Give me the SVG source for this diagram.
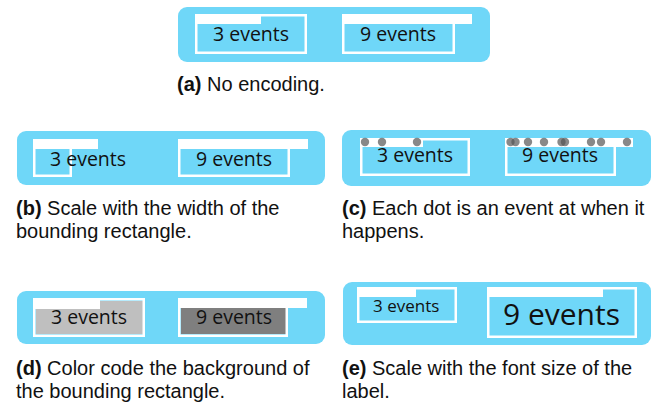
<svg xmlns="http://www.w3.org/2000/svg" width="653" height="410" viewBox="0 0 653 410">
<style>
.bg{fill:#6fd7f8}
.ol{fill:none;stroke:#fff;stroke-width:2.5}
.bar{fill:#fff}
.lbl{font-family:"Open Sans","Noto Sans",sans-serif;font-size:19.5px;fill:#111}
.cap{font-family:"Liberation Sans",Arial,sans-serif;font-size:20px;fill:#111}
.b{font-weight:bold}
.dot{fill:#555;fill-opacity:0.7}
</style>
<rect width="653" height="410" fill="#fff"/>
<g id="panel-a">
  <rect class="bg" x="178" y="7" width="312" height="55" rx="9"/>
  <g id="a-left">
    <rect class="ol" x="196.25" y="15.25" width="109.5" height="37.5"/>
    <rect class="bar" x="195" y="14" width="66" height="10"/>
    <text class="lbl" x="213" y="41">3 events</text>
  </g>
  <g id="a-right">
    <rect class="ol" x="343.25" y="15.25" width="110.5" height="37.5"/>
    <rect class="bar" x="342" y="14" width="130" height="10"/>
    <text class="lbl" x="360" y="41">9 events</text>
  </g>
  <text class="cap" x="177" y="91"><tspan class="b">(a)</tspan> No encoding.</text>
</g>
<g id="panel-b">
  <rect class="bg" x="17" y="131" width="308" height="54" rx="9"/>
  <g id="b-left">
    <rect class="ol" x="34.25" y="140.25" width="36.5" height="35.5"/>
    <rect class="bar" x="33" y="139" width="65" height="10"/>
    <text class="lbl" x="50" y="166">3 events</text>
  </g>
  <g id="b-right">
    <rect class="ol" x="179.25" y="140.25" width="109.5" height="35.5"/>
    <rect class="bar" x="178" y="139" width="130" height="10"/>
    <text class="lbl" x="196" y="166">9 events</text>
  </g>
  <text class="cap" x="16" y="215"><tspan class="b">(b)</tspan> Scale with the width of the</text>
  <text class="cap" x="16" y="238">bounding rectangle.</text>
</g>
<g id="panel-c">
  <rect class="bg" x="342" y="130" width="309" height="56" rx="9"/>
  <g id="c-left">
    <rect class="ol" x="361.25" y="139.25" width="107.5" height="35.5"/>
    <rect class="bar" x="360" y="138" width="63" height="9"/>
    <text class="lbl" x="377" y="162">3 events</text>
    <circle class="dot" cx="365" cy="142" r="4.2"/>
    <circle class="dot" cx="382" cy="142" r="4.2"/>
    <circle class="dot" cx="417" cy="142" r="4.2"/>
  </g>
  <g id="c-right">
    <rect class="ol" x="506.25" y="139.25" width="108.5" height="35.5"/>
    <rect class="bar" x="505" y="138" width="128" height="9"/>
    <text class="lbl" x="522" y="162">9 events</text>
    <circle class="dot" cx="510.5" cy="142" r="4.2"/>
    <circle class="dot" cx="515.5" cy="142" r="4.2"/>
    <circle class="dot" cx="528" cy="142" r="4.2"/>
    <circle class="dot" cx="544" cy="142" r="4.2"/>
    <circle class="dot" cx="561.5" cy="142" r="4.2"/>
    <circle class="dot" cx="565" cy="142" r="4.2"/>
    <circle class="dot" cx="591" cy="142" r="4.2"/>
    <circle class="dot" cx="601" cy="142" r="4.2"/>
    <circle class="dot" cx="627" cy="142" r="4.2"/>
  </g>
  <text class="cap" x="342" y="215"><tspan class="b">(c)</tspan> Each dot is an event at when it</text>
  <text class="cap" x="342" y="238">happens.</text>
</g>
<g id="panel-d">
  <rect class="bg" x="17" y="291" width="308" height="53" rx="9"/>
  <g id="d-left">
    <rect x="36" y="301" width="107" height="33" fill="#bfbfbf"/>
    <rect class="ol" x="34.25" y="299.25" width="109.5" height="36.5"/>
    <rect class="bar" x="33" y="298" width="67" height="11"/>
    <text class="lbl" x="51" y="324">3 events</text>
  </g>
  <g id="d-right">
    <rect x="181" y="301" width="105" height="33" fill="#7f7f7f"/>
    <rect class="ol" x="179.25" y="299.25" width="107.5" height="36.5"/>
    <rect class="bar" x="178" y="298" width="129" height="10"/>
    <text class="lbl" x="196" y="324">9 events</text>
  </g>
  <text class="cap" x="16" y="375"><tspan class="b">(d)</tspan> Color code the background of</text>
  <text class="cap" x="16" y="398">the bounding rectangle.</text>
</g>
<g id="panel-e">
  <rect class="bg" x="343" y="282" width="308" height="63" rx="9"/>
  <g id="e-left">
    <rect class="ol" x="358.25" y="288.25" width="97.5" height="33.5"/>
    <rect class="bar" x="357" y="287" width="59" height="10"/>
    <text class="lbl" x="373" y="312" style="font-size:17px">3 events</text>
  </g>
  <g id="e-right">
    <rect class="ol" x="488.25" y="288.25" width="147.5" height="48.5"/>
    <rect class="bar" x="487" y="287" width="116" height="10"/>
    <text class="lbl" x="503" y="325" style="font-size:30px">9 events</text>
  </g>
  <text class="cap" x="342" y="375"><tspan class="b">(e)</tspan> Scale with the font size of the</text>
  <text class="cap" x="342" y="398">label.</text>
</g>
</svg>
